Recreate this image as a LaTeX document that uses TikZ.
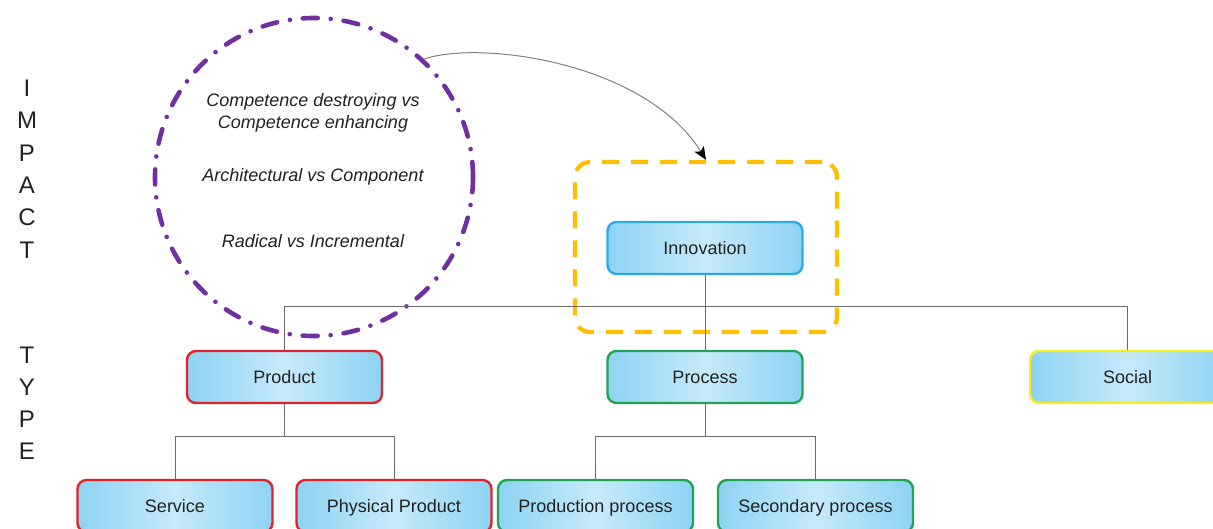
\documentclass[tikz,border=0pt]{standalone}
\usepackage{fontspec}
\setmainfont{Liberation Sans}
\usetikzlibrary{arrows.meta}
\definecolor{boxedge}{HTML}{8DD3F3}
\definecolor{boxmid}{HTML}{C6EAFA}
\definecolor{txt}{HTML}{222222}
\definecolor{innovblue}{HTML}{2BAAE2}
\definecolor{prodred}{HTML}{E0232B}
\definecolor{procgreen}{HTML}{22A257}
\definecolor{socyellow}{HTML}{F5EE1E}
\definecolor{impactpurple}{HTML}{7030A0}
\definecolor{focusamber}{HTML}{FFBF00}
\definecolor{wire}{HTML}{6A6A6A}
\definecolor{arrowwire}{HTML}{808080}
\begin{document}
\begin{tikzpicture}[x=1pt,y=-1pt,
  box/.style={rounded corners=9pt, minimum width=195pt, minimum height=52pt,
    line width=2.4pt, left color=boxedge, right color=boxedge, middle color=boxmid,
    font=\fontsize{18}{21}\selectfont, text=txt, inner sep=0pt,
    text height=12.9pt, text depth=0pt},
  conn/.style={draw=wire, line width=1pt},
  sidelabel/.style={font=\fontsize{24}{28}\selectfont, text=txt, inner sep=0pt},
  circtext/.style={font=\fontsize{18}{22}\selectfont\itshape, text=txt, align=center, inner sep=0pt}]
\clip (0,0) rectangle (1213,529);
\fill[white] (0,0) rectangle (1213,529);

% side labels
\foreach \ch [count=\i] in {I,M,P,A,C,T}
  \node[sidelabel] (impact\i) at (27,{88+32.4*(\i-1)}) {\ch};
\foreach \ch [count=\i] in {T,Y,P,E}
  \node[sidelabel] (type\i) at (27,{355+32*(\i-1)}) {\ch};

% impact classes circle
\node[circle, minimum size=318pt, inner sep=0pt, draw=impactpurple, line width=4.6pt,
  line cap=round, dash pattern=on 15pt off 13pt on 0pt off 13pt] (impact) at (314,177) {};
\node[circtext] (cd) at (313,113) {Competence destroying vs\\Competence enhancing};
\node[circtext] (ac) at (313,177) {Architectural vs Component};
\node[circtext] (ri) at (313,241) {Radical vs Incremental};

% focus frame around the root
\node[rectangle, rounded corners=15pt, minimum width=262pt, minimum height=170pt,
  draw=focusamber, line width=4.2pt, dash pattern=on 17pt off 12pt, inner sep=0pt] (focus) at (706,247) {};

% boxes
\node[box, draw=innovblue] (innov) at (705,248) {Innovation};
\node[box, draw=prodred] (prod) at (284.5,377) {Product};
\node[box, draw=procgreen] (proc) at (705,377) {Process};
\node[box, draw=socyellow] (soc) at (1127.5,377) {Social};
\node[box, draw=prodred] (serv) at (175,506) {Service};
\node[box, draw=prodred] (phys) at (394,506) {Physical Product};
\node[box, draw=procgreen] (prodn) at (595.5,506) {Production process};
\node[box, draw=procgreen] (sec) at (815.5,506) {Secondary process};

% tree connectors
\coordinate (bus) at (705,307);
\coordinate (pbus) at (284.5,436);
\coordinate (cbus) at (705,436);
\draw[conn] (innov.south) -- (proc.north);
\draw[conn] (prod.north) -- (prod.north |- bus) -- (soc.north |- bus) -- (soc.north);
\draw[conn] (prod.south) -- (pbus);
\draw[conn] (serv.north) -- (serv.north |- pbus) -- (phys.north |- pbus) -- (phys.north);
\draw[conn] (proc.south) -- (cbus);
\draw[conn] (prodn.north) -- (prodn.north |- cbus) -- (sec.north |- cbus) -- (sec.north);

% arrow from the circle to the focus frame
\draw[draw=arrowwire, line width=1pt, -{Stealth[length=13pt, width=11pt, inset=3pt, color=black]}]
  (impact.47) .. controls (480,40) and (645,62) .. (focus.north);
\end{tikzpicture}
\end{document}
